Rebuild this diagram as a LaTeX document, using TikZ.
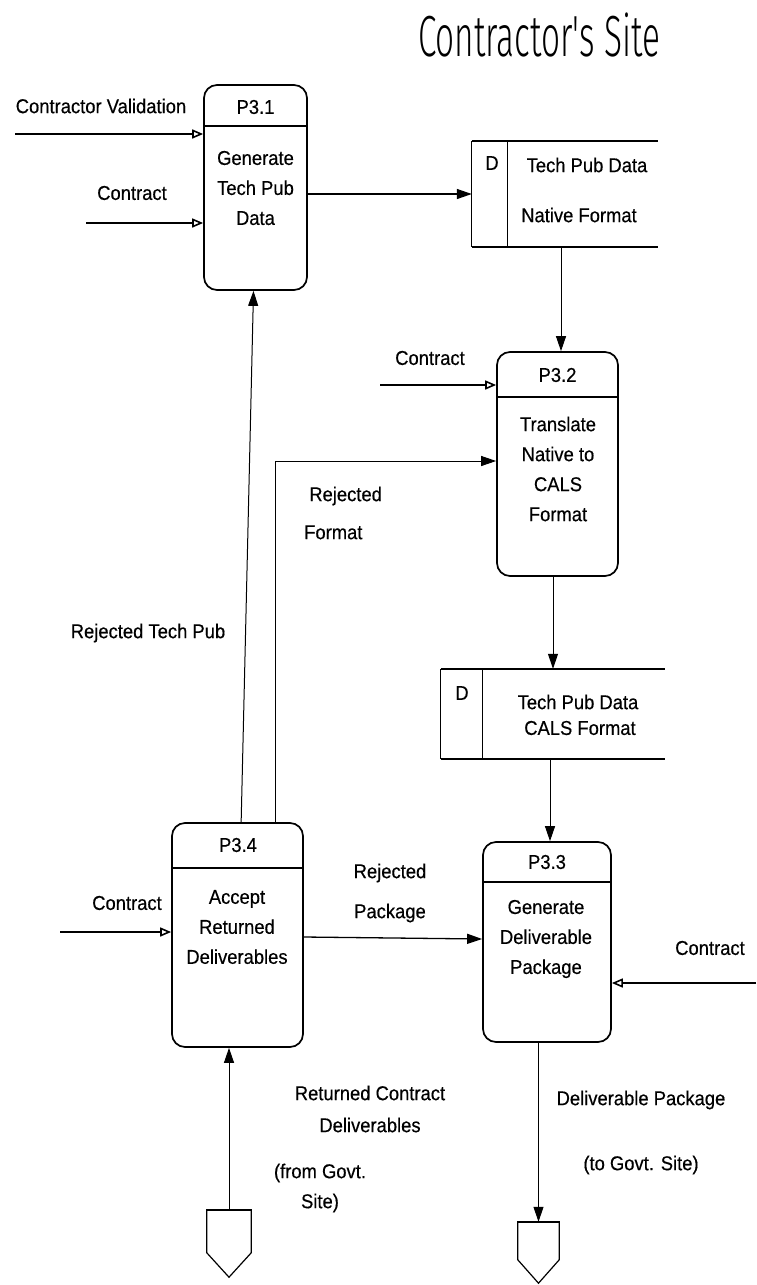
\documentclass[tikz,border=0pt]{standalone}
\usepackage{fontspec}
\setmainfont{Liberation Sans}[FakeStretch=0.92,FakeBold=0.4]
\newfontfamily\titlefont{Fira Sans Light}[FakeStretch=0.575]
\usetikzlibrary{arrows.meta,calc}
\begin{document}
\begin{tikzpicture}[x=1pt,y=-1pt,
  proc/.style={draw, line width=1.7pt, rounded corners=13pt, inner sep=0pt},
  store/.style={inner sep=0pt},
  txt/.style={font=\fontsize{20}{30}\selectfont, align=center, inner sep=0pt},
  lbl/.style={font=\fontsize{20}{30}\selectfont, align=center, inner sep=0pt},
  fa/.style={line width=1.3pt, -{Triangle[length=15pt,width=10pt]}},
  thin/.style={line width=1pt, -{Triangle[length=15pt,width=10pt]}},
  oa/.style={line width=1.6pt, -{Triangle[open,length=11pt,width=9pt,line width=1.6pt]}},
  hdr/.style={line width=1.7pt},
  edge/.style={line width=1.9pt},
  side/.style={line width=1.2pt}]
\useasboundingbox (0,0) rectangle (756,1285);

% title
\node[inner sep=0pt, font=\titlefont\fontsize{58}{60}\selectfont] (title) at (539,35) {Contractor's Site};

% processes
\node[proc, minimum width=103pt, minimum height=205pt] (p31) at (255.5,187.5) {};
\draw[hdr] (p31.west |- 0,126) -- (p31.east |- 0,126);
\node[txt] (p31h) at (255.5,107) {P3.1};
\node[txt] (p31t) at (255.5,188) {Generate\\Tech Pub\\Data};

\node[proc, minimum width=121pt, minimum height=224pt] (p32) at (557.5,464) {};
\draw[hdr] (p32.west |- 0,397) -- (p32.east |- 0,397);
\node[txt] (p32h) at (557.5,375) {P3.2};
\node[txt] (p32t) at (558,469) {Translate\\Native to\\CALS\\Format};

\node[proc, minimum width=128pt, minimum height=200pt] (p33) at (547,942) {};
\draw[hdr] (p33.west |- 0,882) -- (p33.east |- 0,882);
\node[txt] (p33h) at (547,862) {P3.3};
\node[txt] (p33t) at (546,939) {Generate\\Deliverable\\Package};

\node[proc, minimum width=131pt, minimum height=224pt] (p34) at (237.5,935) {};
\draw[hdr] (p34.west |- 0,868) -- (p34.east |- 0,868);
\node[txt] (p34h) at (238,845) {P3.4};
\node[txt] (p34t) at (237,927) {Accept\\Returned\\Deliverables};

% data stores
\node[store, minimum width=186pt, minimum height=106pt] (ds1) at (565,194) {};
\draw[edge] (ds1.north west) -- (ds1.north east);
\draw[edge] (ds1.south west) -- (ds1.south east);
\draw[side] (ds1.north west) -- (ds1.south west);
\draw[side] ([xshift=36pt]ds1.north west) -- ([xshift=36pt]ds1.south west);
\node[txt] (ds1d) at (492,163) {D};
\node[txt] (ds1a) at (587,165) {Tech Pub Data};
\node[txt] (ds1b) at (579,215) {Native Format};

\node[store, minimum width=224pt, minimum height=90pt] (ds2) at (553,714) {};
\draw[edge] (ds2.north west) -- (ds2.north east);
\draw[edge] (ds2.south west) -- (ds2.south east);
\draw[side] (ds2.north west) -- (ds2.south west);
\draw[side] ([xshift=42pt]ds2.north west) -- ([xshift=42pt]ds2.south west);
\node[txt] (ds2d) at (462,693) {D};
\node[txt] (ds2a) at (578,702) {Tech Pub Data};
\node[txt] (ds2b) at (580,728) {CALS Format};

% off-page connectors
\node[store, minimum width=44pt, minimum height=67pt] (oc1) at (229,1243.5) {};
\draw[line width=1.2pt] (oc1.north west) -- (oc1.north east) -- ([yshift=-43pt]oc1.north east) -- (oc1.south) -- ([yshift=-43pt]oc1.north west) -- cycle;
\draw[edge] (oc1.north west) -- (oc1.north east);
\node[store, minimum width=41pt, minimum height=61pt] (oc2) at (538.5,1252.5) {};
\draw[line width=1.2pt] (oc2.north west) -- (oc2.north east) -- ([yshift=-38pt]oc2.north east) -- (oc2.south) -- ([yshift=-38pt]oc2.north west) -- cycle;
\draw[edge] (oc2.north west) -- (oc2.north east);

% external inputs
\coordinate (cvs) at (15,134);
\coordinate (c1s) at (86,223);
\coordinate (c2s) at (380,385);
\coordinate (c3s) at (60,932);
\coordinate (c4s) at (756,983);
\draw[oa] (cvs) -- (cvs -| p31.west);
\draw[oa] (c1s) -- (c1s -| p31.west);
\draw[oa] (c2s) -- (c2s -| p32.west);
\draw[oa] (c3s) -- (c3s -| p34.west);
\draw[oa] (c4s) -- (c4s -| p33.east);

% flows
\draw[fa] (p31.east |- ds1.west) -- (ds1.west);
\draw[thin] ([xshift=-4pt]ds1.south) -- ([xshift=-4pt]ds1.south |- p32.north);
\draw[thin] (p32.south -| ds2.north) -- (ds2.north);
\draw[thin] ([xshift=-3pt]ds2.south) -- ([xshift=-3pt]ds2.south |- p33.north);
\draw[fa] (p34.east |- 0,937) -- (p33.west |- 0,939);
\draw[thin] ([xshift=104pt]p34.north west) |- ([yshift=3pt]p32.west);
\draw[thin] ([xshift=70pt]p34.north west) -- ([xshift=-2pt]p31.south);
\draw[thin] (oc1.north) -- (oc1.north |- p34.south);
\draw[thin] (oc2.north |- p33.south) -- (oc2.north);

% labels
\node[lbl] (lcv) at (101,106) {Contractor Validation};
\node[lbl] (lc1) at (132,193) {Contract};
\node[lbl] (lc2) at (430,358) {Contract};
\node[lbl, align=left, anchor=west] (lrf) at (304,513) {\ Rejected\\[8pt]Format};
\node[lbl] (lrt) at (148,633) {Rejected Tech Pub};
\node[lbl] (lc3) at (127,903) {Contract};
\node[lbl] (lrp) at (390,893) {Rejected\\[10pt]Package};
\node[lbl] (lc4) at (710,948) {Contract};
\node[lbl] (lrc) at (370,1109) {Returned Contract\\[2pt]Deliverables};
\node[lbl] (lfg) at (320,1188) {(from Govt.\\Site)};
\node[lbl] (ldp) at (641,1100) {Deliverable Package};
\node[lbl] (ltg) at (641,1165) {(to Govt. Site)};
\end{tikzpicture}
\end{document}
